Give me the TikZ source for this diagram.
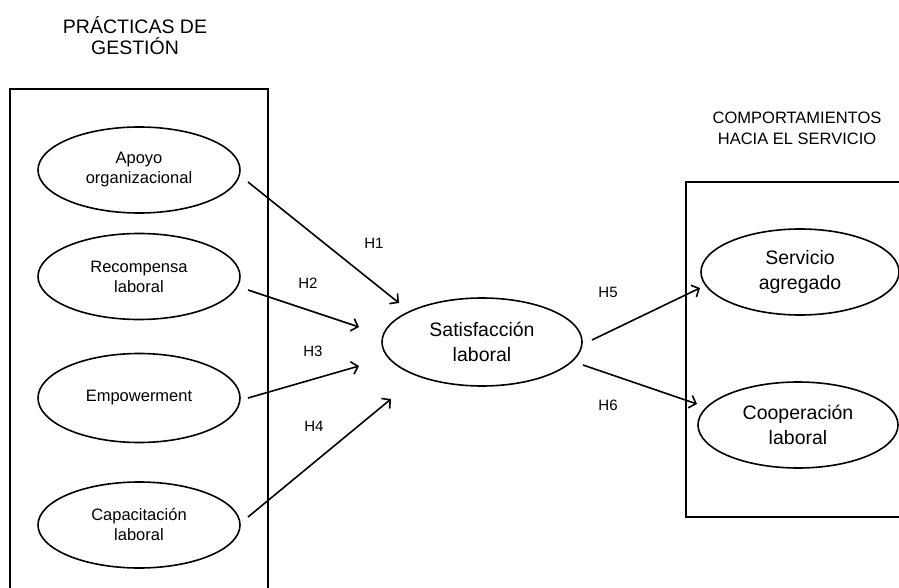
\documentclass[tikz,border=0pt]{standalone}
\usepackage{fontspec}
\setmainfont{Liberation Sans}
\usetikzlibrary{arrows.meta,shapes.geometric}
\begin{document}
\begin{tikzpicture}[x=1pt,y=-1pt,
  lw/.style={line width=1.6pt},
  elsmall/.style={draw,lw,ellipse,inner sep=0pt,minimum width=202pt,minimum height=86pt,align=center,font=\fontsize{16.5}{20}\selectfont},
  elbig/.style={draw,lw,ellipse,inner sep=0pt,minimum width=200pt,minimum height=87pt,align=center,font=\fontsize{19.5}{24.5}\selectfont},
  hyp/.style={font=\fontsize{15}{18}\selectfont,inner sep=0pt},
  arr/.style={lw,-{Straight Barb[length=6pt,width=13pt,line width=1.6pt]}}
]
\useasboundingbox (0,0) rectangle (899,588);
\fill[white] (0,0) rectangle (899,588);
% boxes
\draw[lw] (10,588) -- (10,89) -- (268,89) -- (268,588);
\draw[lw] (899,182) -- (686,182) -- (686,517) -- (899,517);
% titles
\node[align=center,font=\fontsize{19.5}{21}\selectfont] (t1) at (135,36) {PRÁCTICAS DE\\GESTIÓN};
\node[align=center,font=\fontsize{16.5}{21}\selectfont] (t2) at (797,128) {COMPORTAMIENTOS\\HACIA EL SERVICIO};
% nodes
\node[elsmall] (apoyo) at (139,170) {Apoyo\\organizacional};
\node[elsmall] (recomp) at (139,276.5) {Recompensa\\laboral};
\node[elsmall,minimum height=89pt] (empow) at (139,398) {Empowerment};
\node[elsmall] (capac) at (139,525) {Capacitación\\laboral};
\node[elbig,minimum height=88pt] (sat) at (482,342) {Satisfacción\\laboral};
\node[elbig,minimum width=198pt,minimum height=86pt] (serv) at (800,272) {Servicio\\agregado};
\node[elbig,minimum height=86pt] (coop) at (798,425) {Cooperación\\laboral};
% arrows
\draw[arr] ([shift={(109,12)}]apoyo.center) -- ([shift={(-83,-39)}]sat.center);
\draw[arr] ([shift={(109,13.5)}]recomp.center) -- ([shift={(-123,-15)}]sat.center);
\draw[arr] ([shift={(109,0)}]empow.center) -- ([shift={(-123,24)}]sat.center);
\draw[arr] ([shift={(109,-8)}]capac.center) -- ([shift={(-91,57)}]sat.center);
\draw[arr] ([shift={(110,-2)}]sat.center) -- ([shift={(-100,16)}]serv.center);
\draw[arr] ([shift={(101,23)}]sat.center) -- ([shift={(-101,-21)}]coop.center);
% labels
\node[hyp] (h1) at (374,243) {H1};
\node[hyp] (h2) at (308,283) {H2};
\node[hyp] (h3) at (313,351) {H3};
\node[hyp] (h4) at (314,426) {H4};
\node[hyp] (h5) at (608,292) {H5};
\node[hyp] (h6) at (608,405) {H6};
\end{tikzpicture}
\end{document}
